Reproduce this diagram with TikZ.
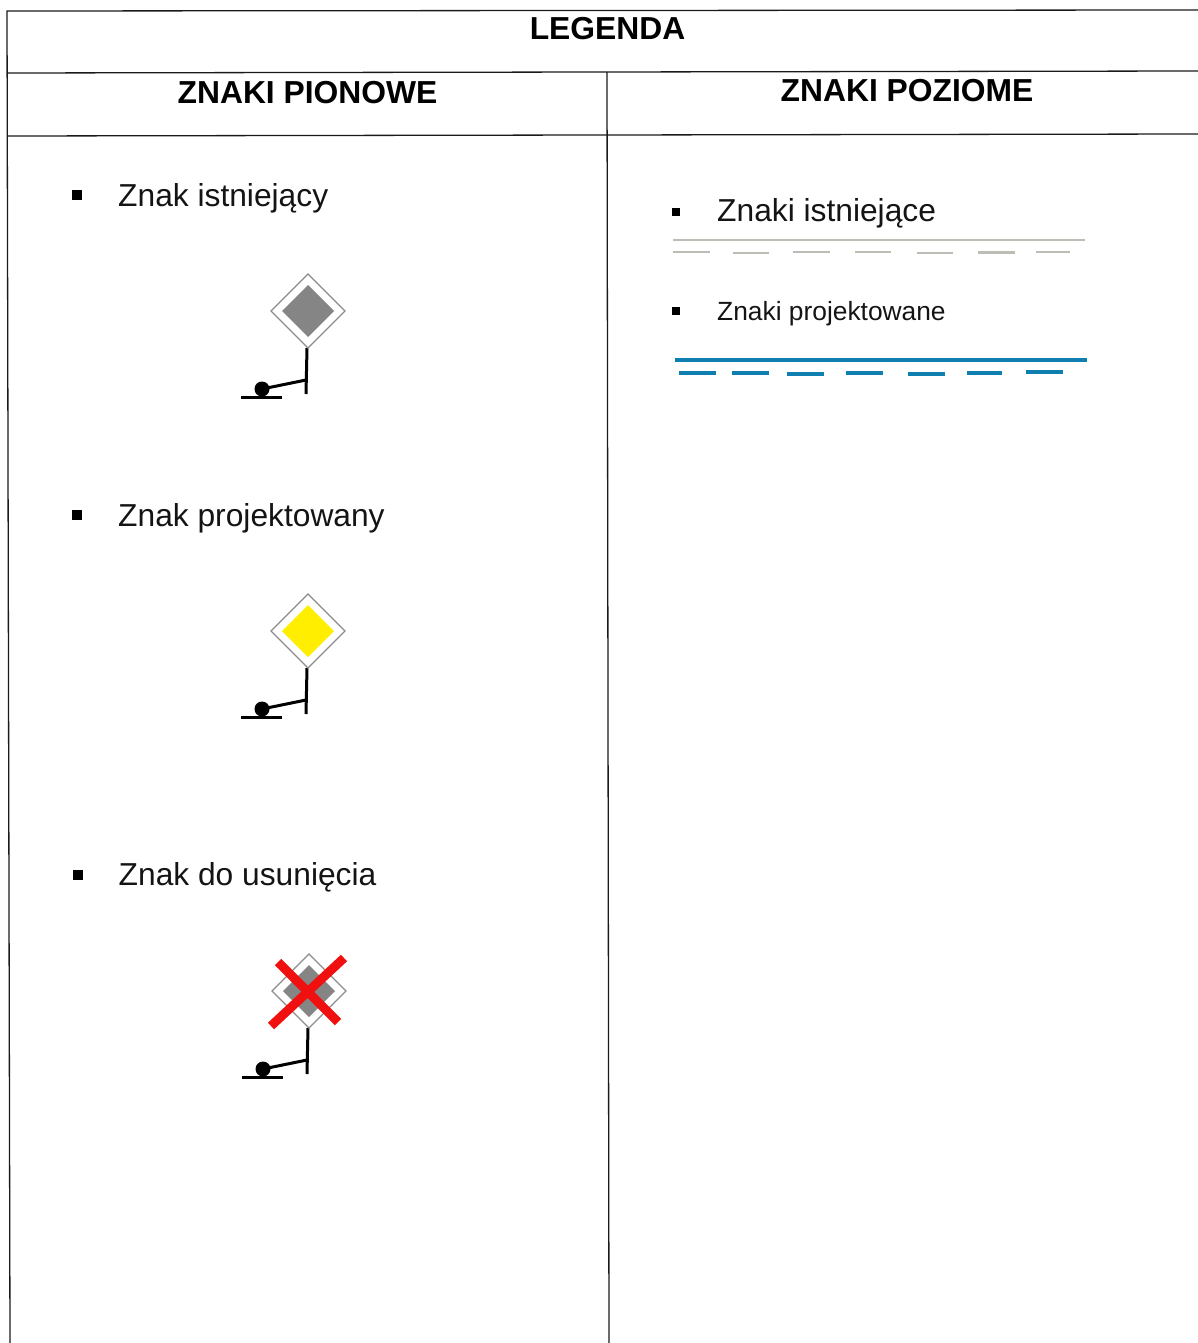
\documentclass[tikz,border=0pt]{standalone}
\usepackage{fontspec}
\setmainfont{Liberation Sans}
\definecolor{signgrey}{HTML}{858585}
\definecolor{signyellow}{HTML}{FFEE00}
\definecolor{tablerule}{HTML}{1A1A1A}
\definecolor{oldmark}{HTML}{BDBDB5}
\definecolor{newmark}{HTML}{0F7FAF}
\definecolor{crossred}{HTML}{F01010}
\tikzset{
  x=1pt,y=-1pt,
  tableline/.style={draw=tablerule,line width=1.3pt},
  head/.style={anchor=base,inner sep=0pt,font=\fontsize{31.8}{36}\selectfont\bfseries},
  item/.style={anchor=base west,inner sep=0pt,text=black!92,font=\fontsize{31.75}{36}\selectfont},
  itemsmall/.style={anchor=base west,inner sep=0pt,text=black!92,font=\fontsize{26.35}{30}\selectfont},
  bulletmark/.style={fill=black,inner sep=0pt,minimum size=9.5pt,draw=none,rectangle},
  post/.style={draw=black,line width=3pt},
  plate/.style={draw=black!45,fill=white,line width=1.1pt},
  existingmark/.style={draw=oldmark,line width=2.6pt},
  designedmark/.style={draw=newmark,line width=3.6pt},
  xline/.style={draw=crossred,line width=9pt},
}
% #1 name, #2 x of diamond centre, #3 y of diamond centre, #4 fill
\newcommand{\roadsign}[4]{%
  \coordinate (#1c) at (#2,#3);
  \coordinate (#1top) at ([shift={(-1,37)}]#1c);
  \coordinate (#1end) at ([shift={(-2,83)}]#1c);
  \coordinate (#1arm) at ([shift={(-2,69)}]#1c);
  \coordinate (#1dot) at ([shift={(-46,78)}]#1c);
  \coordinate (#1bl) at ([shift={(-67,86)}]#1c);
  \coordinate (#1br) at ([shift={(-26,86)}]#1c);
  \draw[post] (#1top) -- (#1end);
  \draw[post] (#1arm) -- (#1dot);
  \draw[post] (#1bl) -- (#1br);
  \fill[black] (#1dot) circle[radius=7.5];
  \path[plate] ([shift={(0,-37)}]#1c) -- ([shift={(37,0)}]#1c) -- ([shift={(0,37)}]#1c) -- ([shift={(-37,0)}]#1c) -- cycle;
  \fill[#4] ([shift={(0,-26)}]#1c) -- ([shift={(26,0)}]#1c) -- ([shift={(0,26)}]#1c) -- ([shift={(-26,0)}]#1c) -- cycle;
}
\begin{document}
\begin{tikzpicture}
\useasboundingbox (0,0) rectangle (1198,1343);
% table
\draw[tableline] (1198,10) -- (7,11) -- (10,1343);
\draw[tableline] (7,73) -- (1198,71);
\draw[tableline] (8,136) -- (1198,134);
\draw[tableline] (607,72) -- (609,1343);
% headers
\node[head] (legenda) at (607.5,40) {LEGENDA};
\node[head] (pion) at (307.5,104) {ZNAKI PIONOWE};
\node[head] (poz) at (907,102) {ZNAKI POZIOME};
% left items
\node[bulletmark] (b1) at (77,195) {};
\node[item] (t1) at (118,206) {Znak istniejący};
\node[bulletmark] (b2) at (77,515) {};
\node[item] (t2) at (118,526) {Znak projektowany};
\node[bulletmark] (b3) at (78,875) {};
\node[item] (t3) at (118.5,885) {Znak do usunięcia};
% right items
\node[bulletmark,minimum size=8.5pt] (b4) at (676,212) {};
\node[item] (t4) at (717,221) {Znaki istniejące};
\node[bulletmark,minimum size=8.5pt] (b5) at (676,311) {};
\node[itemsmall] (t5) at (717,320) {Znaki projektowane};
% signs
\roadsign{sa}{308}{311}{signgrey}
\roadsign{sb}{308}{631}{signyellow}
\roadsign{sc}{309}{991}{signgrey}
\draw[xline] (344,958) -- (271,1026);
\draw[xline] (278,962) -- (338,1022);
% existing markings
\draw[existingmark] (673,240) -- (1085,240);
\foreach \a/\b/\c in {673/710/252,733/769/253,793/830/252,855/891/252,917/953/253,978/1015/252.5,1036/1070/252}
  \draw[existingmark] (\a,\c) -- (\b,\c);
% designed markings
\draw[designedmark] (675,360) -- (1087,360);
\foreach \a/\b/\c in {679/716/373,732/769/373,787/824/374,846/883/373,908/945/374,967/1002/373,1026/1063/372}
  \draw[designedmark] (\a,\c) -- (\b,\c);
\end{tikzpicture}
\end{document}
